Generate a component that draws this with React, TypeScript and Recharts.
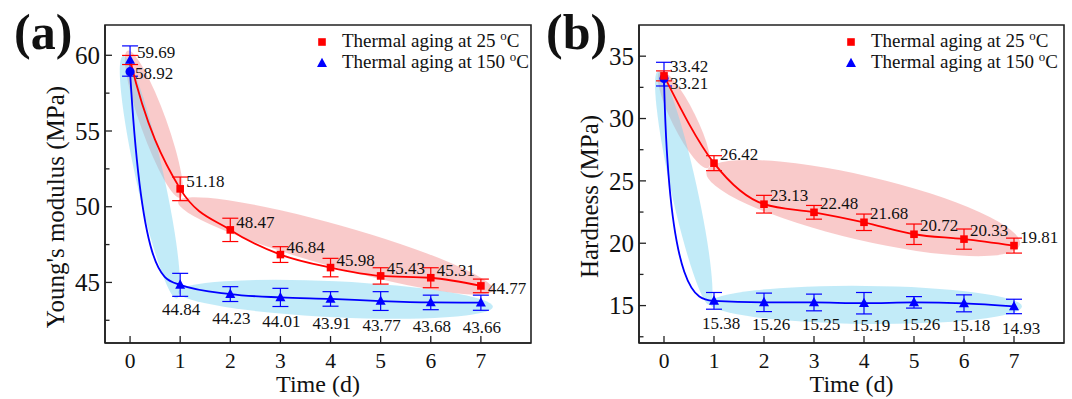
import React from 'react';
import {
  LineChart,
  Line,
  XAxis,
  YAxis,
  ErrorBar,
  LabelList,
  ReferenceLine,
  ReferenceArea,
} from 'recharts';

// ---------------- data ----------------
const days = [0, 1, 2, 3, 4, 5, 6, 7];

const modulus25 = [59.69, 51.18, 48.47, 46.84, 45.98, 45.43, 45.31, 44.77];
const modulus25Err = [0.3, 0.78, 0.77, 0.52, 0.61, 0.54, 0.66, 0.45];
const modulus150 = [58.92, 44.84, 44.23, 44.01, 43.91, 43.77, 43.68, 43.66];
const modulus150Err: any[] = [[0.3, 1.7], 0.76, 0.49, 0.6, 0.48, 0.62, 0.48, 0.5];

const hardness25 = [33.42, 26.42, 23.13, 22.48, 21.68, 20.72, 20.33, 19.81];
const hardness25Err = [0.4, 0.6, 0.71, 0.55, 0.66, 0.82, 0.81, 0.6];
const hardness150 = [33.21, 15.38, 15.26, 15.25, 15.19, 15.26, 15.18, 14.93];
const hardness150Err: any[] = [[0.6, 1.3], 0.67, 0.74, 0.67, 0.86, 0.46, 0.68, 0.58];

const xTicks = [0, 1, 2, 3, 4, 5, 6, 7];
const modulusMajorTicks = [45, 50, 55, 60];
const modulusMinorTicks = [42.5, 47.5, 52.5, 57.5];
const hardnessMajorTicks = [15, 20, 25, 30, 35];
const hardnessMinorTicks = [12.5, 17.5, 22.5, 27.5, 32.5];

const legend25 = 'Thermal aging at 25 ';
const legend150 = 'Thermal aging at 150 ';

// shaded groups, tips given in data units [day, value]
const modulusShade25 = [
  { from: [-0.05, 60.3], to: [1.0, 50.6] },
  { from: [0.96, 50.34], to: [7.24, 44.49] },
];
const modulusShade150 = [
  { from: [-0.14, 59.95], to: [0.93, 43.94] },
  { from: [0.96, 44.38], to: [7.24, 43.39] },
];
const hardnessShade25 = [
  { from: [-0.08, 33.8], to: [0.88, 26.04] },
  { from: [0.85, 25.76], to: [7.12, 19.88] },
];
const hardnessShade150 = [
  { from: [-0.12, 33.8], to: [0.91, 15.06] },
  { from: [0.91, 15.19], to: [7.16, 14.92] },
];

// ---------------- styles ----------------
const FONT = "'Liberation Serif', Tinos, 'Times New Roman', Times, serif";
const RED = '#ff0000';
const BLUE = '#0000ff';
const AXIS = '#222';
const RED_FILL = 'rgb(240,128,128)';
const BLUE_FILL = 'rgb(120,210,240)';

const buildRows = (a: number[], ae: any[], b: number[], be: any[]) =>
  days.map((d, i) => ({ day: d, v25: a[i], e25: ae[i], v150: b[i], e150: be[i] }));

const modulusRows = buildRows(modulus25, modulus25Err, modulus150, modulus150Err);
const hardnessRows = buildRows(hardness25, hardness25Err, hardness150, hardness150Err);

// Line style: monotone cubic interpolation whose first segment can be drawn
// as a decay-like bend (knee) or with a steeper starting tangent.
const decayCurve = (opts: { knee?: number; startScale?: number }) => (context: any) => {
  let xs: number[] = [];
  let ys: number[] = [];
  return {
    areaStart() {},
    areaEnd() {},
    lineStart() {
      xs = [];
      ys = [];
    },
    lineEnd() {
      const n = xs.length;
      if (!n) return;
      context.moveTo(xs[0], ys[0]);
      if (n === 1) return;
      const h: number[] = [];
      const s: number[] = [];
      for (let i = 0; i < n - 1; i++) {
        h[i] = xs[i + 1] - xs[i];
        s[i] = (ys[i + 1] - ys[i]) / h[i];
      }
      const t: number[] = new Array(n).fill(0);
      for (let i = 1; i < n - 1; i++) {
        const p = (s[i - 1] * h[i] + s[i] * h[i - 1]) / (h[i - 1] + h[i]);
        t[i] =
          (Math.sign(s[i - 1]) + Math.sign(s[i])) *
            Math.min(Math.abs(s[i - 1]), Math.abs(s[i]), 0.5 * Math.abs(p)) || 0;
      }
      t[0] = n > 2 ? (3 * s[0] - t[1]) / 2 : s[0];
      t[n - 1] = n > 2 ? (3 * s[n - 2] - t[n - 2]) / 2 : s[n - 2];
      if (opts.startScale) t[0] = opts.startScale * s[0];
      for (let i = 0; i < n - 1; i++) {
        const dx = h[i] / 3;
        let c1x = xs[i] + dx;
        let c1y = ys[i] + dx * t[i];
        if (i === 0 && opts.knee != null) {
          c1x = xs[0] + opts.knee * h[0];
          c1y = ys[1];
        }
        context.bezierCurveTo(c1x, c1y, xs[i + 1] - dx, ys[i + 1] - dx * t[i + 1], xs[i + 1], ys[i + 1]);
      }
    },
    point(x: number, y: number) {
      xs.push(+x);
      ys.push(+y);
    },
  };
};

const ellipseShape = (halfWidth: number, fill: string, opacity: number) => (p: any) => {
  const { x1, y1, x2, y2 } = p;
  if ([x1, y1, x2, y2].some((v) => typeof v !== 'number' || isNaN(v))) return <g />;
  const cx = (x1 + x2) / 2;
  const cy = (y1 + y2) / 2;
  const len = Math.hypot(x2 - x1, y2 - y1);
  const ang = (Math.atan2(y2 - y1, x2 - x1) * 180) / Math.PI;
  return (
    <ellipse
      cx={cx}
      cy={cy}
      rx={len / 2}
      ry={halfWidth}
      fill={fill}
      fillOpacity={opacity}
      stroke="none"
      transform={`rotate(${ang} ${cx} ${cy})`}
    />
  );
};

const Square = ({ cx, cy, color }: any) => (
  <rect x={cx - 3.8} y={cy - 3.8} width={7.6} height={7.6} fill={color} />
);
const Triangle = ({ cx, cy, color }: any) => (
  <polygon points={`${cx},${cy - 5.5} ${cx - 5},${cy + 3.8} ${cx + 5},${cy + 3.8}`} fill={color} />
);

const LegendMarkerSquare = () => (
  <svg width={12} height={12} style={{ display: 'block' }}>
    <rect x={2.2} y={2.2} width={7.6} height={7.6} fill={RED} />
  </svg>
);
const LegendMarkerTriangle = () => (
  <svg width={12} height={12} style={{ display: 'block' }}>
    <polygon points="6,0.8 1,10 11,10" fill={BLUE} />
  </svg>
);

const LegendBox = ({ left, top }: { left: number; top: number }) => (
  <div
    style={{
      position: 'absolute',
      left,
      top,
      fontFamily: FONT,
      fontSize: 19,
      color: '#111',
      lineHeight: '21px',
    }}
  >
    {[
      { t: legend25, m: <LegendMarkerSquare /> },
      { t: legend150, m: <LegendMarkerTriangle /> },
    ].map((r, i) => (
      <div key={i} style={{ display: 'flex', alignItems: 'center', height: 21, whiteSpace: 'nowrap' }}>
        <div style={{ width: 12, marginRight: 14 }}>{r.m}</div>
        <span>
          {r.t}
          <span style={{ fontSize: '0.68em', position: 'relative', top: '-0.55em' }}>o</span>C
        </span>
      </div>
    ))}
  </div>
);

type PanelProps = {
  rows: any[];
  yDomain: [number, number];
  major: number[];
  minor: number[];
  yTitle: string;
  yTitleShift: number;
  shade25: any[];
  shade150: any[];
  hw25: number[];
  hw150: number[];
  marginLeft: number;
  marginRight: number;
  curve25: any;
  curve150: any;
  redFirstAsBlueTriangle: boolean;
  redOffsets: { [k: number]: [number, number] };
  redDefault: [number, number];
  blueOffsets: { [k: number]: [number, number] };
  blueDefault: [number, number];
};

const Panel = (P: PanelProps) => {
  const yTicks = [...P.minor, ...P.major].sort((a, b) => a - b);

  const YTick = (props: any) => {
    const { x, y, payload } = props;
    const v = payload.value;
    const isMajor = P.major.includes(v);
    const ax = x + 5;
    return (
      <g>
        <line x1={ax} y1={y} x2={ax + (isMajor ? 7 : 4.5)} y2={y} stroke={AXIS} strokeWidth={1.3} />
        {isMajor && (
          <text x={x} y={y} dy="0.35em" textAnchor="end" fontSize={25} fontFamily={FONT} fill="#111">
            {v}
          </text>
        )}
      </g>
    );
  };

  const XTick = (props: any) => {
    const { x, y, payload } = props;
    return (
      <g>
        <line x1={x} y1={y} x2={x} y2={y - 7} stroke={AXIS} strokeWidth={1.3} />
        <text x={x} y={y + 25} textAnchor="middle" fontSize={21.5} fontFamily={FONT} fill="#111">
          {payload.value}
        </text>
      </g>
    );
  };

  const getXY = (p: any) => {
    const x = typeof p.x === 'number' ? p.x : p.viewBox?.x;
    const y = typeof p.y === 'number' ? p.y : p.viewBox?.y;
    return [x, y];
  };

  const redLabel = (p: any) => {
    const [x, y] = getXY(p);
    const [dx, dy] = P.redOffsets[p.index] || P.redDefault;
    return (
      <text key={`r${p.index}`} x={x + dx} y={y + dy} dy="0.35em" textAnchor="start" fontSize={17} fontFamily={FONT} fill="#111">
        {Number(p.value).toFixed(2)}
      </text>
    );
  };
  const blueLabel = (p: any) => {
    const [x, y] = getXY(p);
    const o = P.blueOffsets[p.index];
    const [dx, dy] = o || P.blueDefault;
    return (
      <text
        key={`b${p.index}`}
        x={x + dx}
        y={y + dy}
        dy="0.35em"
        textAnchor={o ? 'start' : 'middle'}
        fontSize={17}
        fontFamily={FONT}
        fill="#111"
      >
        {Number(p.value).toFixed(2)}
      </text>
    );
  };

  const redDot = (p: any) => {
    const { cx, cy, index } = p;
    if (P.redFirstAsBlueTriangle && index === 0)
      return <Triangle key={`rd${index}`} cx={cx} cy={cy} color={BLUE} />;
    return <Square key={`rd${index}`} cx={cx} cy={cy} color={RED} />;
  };
  const blueDot = (p: any) => {
    const { cx, cy, index } = p;
    if (index === 0) return <circle key={`bd${index}`} cx={cx} cy={cy} r={4.6} fill={BLUE} />;
    return <Triangle key={`bd${index}`} cx={cx} cy={cy} color={BLUE} />;
  };

  return (
    <LineChart
      width={536}
      height={399}
      data={P.rows}
      margin={{ top: 25, right: P.marginRight, bottom: 0, left: P.marginLeft }}
    >
      {P.shade25.map((s, i) => (
        <ReferenceLine
          key={`s25${i}`}
          segment={[
            { x: s.from[0], y: s.from[1] },
            { x: s.to[0], y: s.to[1] },
          ]}
          ifOverflow="visible"
          shape={ellipseShape(P.hw25[i], RED_FILL, 0.42)}
        />
      ))}
      {P.shade150.map((s, i) => (
        <ReferenceLine
          key={`s150${i}`}
          segment={[
            { x: s.from[0], y: s.from[1] },
            { x: s.to[0], y: s.to[1] },
          ]}
          ifOverflow="visible"
          shape={ellipseShape(P.hw150[i], BLUE_FILL, 0.45)}
        />
      ))}
      <ReferenceArea
        x1={-0.5}
        x2={8}
        y1={P.yDomain[0]}
        y2={P.yDomain[1]}
        fill="none"
        fillOpacity={0}
        stroke={AXIS}
        strokeWidth={1.6}
        ifOverflow="visible"
      />
      <XAxis
        type="number"
        dataKey="day"
        domain={[-0.5, 8]}
        ticks={xTicks}
        interval={0}
        allowDataOverflow
        height={56}
        tickSize={0}
        tickMargin={0}
        tickLine={false}
        axisLine={{ stroke: AXIS, strokeWidth: 1.6 }}
        tick={XTick}
        label={{
          content: (lp: any) => {
            const vb = lp.viewBox || {};
            return (
              <text
                x={vb.x + vb.width / 2}
                y={vb.y + 49}
                textAnchor="middle"
                fontSize={24}
                fontFamily={FONT}
                fill="#111"
              >
                Time (d)
              </text>
            );
          },
        }}
      />
      <YAxis
        type="number"
        domain={P.yDomain}
        ticks={yTicks}
        interval={0}
        allowDataOverflow
        width={60}
        tickSize={0}
        tickMargin={5}
        tickLine={false}
        axisLine={{ stroke: AXIS, strokeWidth: 1.6 }}
        tick={YTick}
        label={{
          content: (lp: any) => {
            const vb = lp.viewBox || {};
            const cx = vb.x + 10;
            const cy = vb.y + vb.height / 2 + P.yTitleShift;
            return (
              <text
                x={cx}
                y={cy}
                dy="0.35em"
                textAnchor="middle"
                fontSize={25}
                fontFamily={FONT}
                fill="#111"
                transform={`rotate(-90 ${cx} ${cy})`}
              >
                {P.yTitle}
              </text>
            );
          },
        }}
      />
      <Line
        type={P.curve150}
        dataKey="v150"
        stroke={BLUE}
        strokeWidth={1.8}
        dot={blueDot}
        activeDot={false}
        isAnimationActive={false}
      >
        <ErrorBar dataKey="e150" width={8} stroke={BLUE} strokeWidth={1.2} direction="y" />
        <LabelList dataKey="v150" content={blueLabel} />
      </Line>
      <Line
        type={P.curve25}
        dataKey="v25"
        stroke={RED}
        strokeWidth={1.8}
        dot={redDot}
        activeDot={false}
        isAnimationActive={false}
      >
        <ErrorBar dataKey="e25" width={8} stroke={RED} strokeWidth={1.2} direction="y" />
        <LabelList dataKey="v25" content={redLabel} />
      </Line>
    </LineChart>
  );
};

export default function App() {
  return (
    <div
      style={{
        position: 'absolute',
        left: 0,
        top: 0,
        width: 1072,
        height: 399,
        background: '#fff',
        fontFamily: FONT,
        overflow: 'hidden',
      }}
    >
      <div style={{ position: 'absolute', left: 0, top: 0 }}>
        <Panel
          rows={modulusRows}
          yDomain={[41, 62]}
          major={modulusMajorTicks}
          minor={modulusMinorTicks}
          yTitle="Young's modulus (MPa)"
          yTitleShift={23}
          shade25={modulusShade25}
          shade150={modulusShade150}
          hw25={[13, 21]}
          hw150={[14, 18]}
          marginLeft={45}
          marginRight={5}
          curve25={decayCurve({ startScale: 1.6 })}
          curve150={decayCurve({ knee: 0.25 })}
          redFirstAsBlueTriangle={true}
          redOffsets={{ 0: [7, -8], 7: [7, 2.5] }}
          redDefault={[6, -8]}
          blueOffsets={{ 0: [5, 1] }}
          blueDefault={[1, 24]}
        />
      </div>
      <div style={{ position: 'absolute', left: 536, top: 0 }}>
        <Panel
          rows={hardnessRows}
          yDomain={[12, 37.5]}
          major={hardnessMajorTicks}
          minor={hardnessMinorTicks}
          yTitle="Hardness (MPa)"
          yTitleShift={12.5}
          shade25={hardnessShade25}
          shade150={hardnessShade150}
          hw25={[12, 32]}
          hw150={[13, 19]}
          marginLeft={43}
          marginRight={8}
          curve25={decayCurve({})}
          curve150={decayCurve({ knee: 0.1 })}
          redFirstAsBlueTriangle={false}
          redOffsets={{ 0: [6, -10] }}
          redDefault={[6, -9]}
          blueOffsets={{ 0: [6, 4.5] }}
          blueDefault={[7, 22]}
        />
      </div>
      <LegendBox left={316} top={31} />
      <LegendBox left={845} top={31} />
      <svg
        width={1072}
        height={399}
        style={{ position: 'absolute', left: 0, top: 0, pointerEvents: 'none' }}
      >
        <text x={14} y={49} fontSize={50} fontWeight="bold" fontFamily={FONT} fill="#111">
          (a)
        </text>
        <text x={546} y={49} fontSize={50} fontWeight="bold" fontFamily={FONT} fill="#111">
          (b)
        </text>
      </svg>
    </div>
  );
}
